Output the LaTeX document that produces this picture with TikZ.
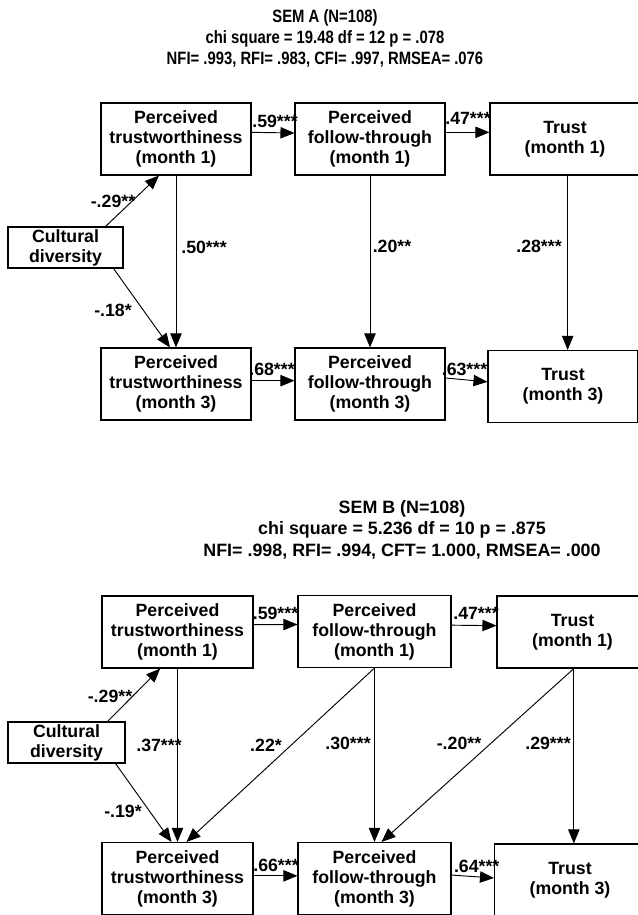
\documentclass[tikz,border=0pt]{standalone}
\usepackage{fontspec}
\setmainfont{Liberation Sans}
\newfontfamily\narrowsans[FakeStretch=0.83]{Liberation Sans}
\usepackage{tikz}
\usetikzlibrary{arrows.meta}

\newcommand{\semfont}{\fontsize{13.3}{15}\selectfont\bfseries}
\newcommand{\headAfont}{\narrowsans\fontsize{13.4}{15.75}\selectfont\bfseries}
\newcommand{\headBfont}{\fontsize{13.4}{16.1}\selectfont\bfseries}

\tikzset{
    var/.style={draw, line width=0.8pt, align=center, inner sep=0pt,
        minimum width=112.5pt, minimum height=54pt, font=\semfont},
    coef/.style={inner sep=0pt, font=\semfont},
    effect/.style={line width=0.7pt, -{Triangle[length=10.5pt,width=8.5pt]}},
}

\begin{document}
\begin{tikzpicture}[x=0.75pt, y=-0.75pt]
            \useasboundingbox (0,0) rectangle (638,915);

            % SEM A
            \node[font=\headAfont, align=center] (headA) at (325,38)
                {SEM A (N=108)\\chi square = 19.48 df = 12 p = .078\\NFI= .993, RFI= .983, CFI= .997, RMSEA= .076};

            \node[var] (ptA1) at (176,139) {Perceived\\trustworthiness\\(month 1)};
            \node[var] (pfA1) at (370,139) {Perceived\\follow-through\\(month 1)};
            \node[var] (trA1) at (565,139) {Trust\\(month 1)};
            \node[var, minimum width=86.25pt, minimum height=30.75pt] (cdA) at (65.5,247.5) {Cultural\\diversity};
            \node[var] (ptA3) at (176,384) {Perceived\\trustworthiness\\(month 3)};
            \node[var] (pfA3) at (370,384) {Perceived\\follow-through\\(month 3)};
            \node[var] (trA3) at (563,386.5) {Trust\\(month 3)};

            \draw[effect] ([yshift=5pt]ptA1.east) -- ([yshift=4.5pt]pfA1.west);
            \draw[effect] ([yshift=5pt]pfA1.east) -- ([yshift=5pt]trA1.west);
            \draw[effect] ([yshift=2.5pt]ptA3.east) -- ([yshift=2.5pt]pfA3.west);
            \draw[effect] ([yshift=4.5pt]pfA3.east) -- ([yshift=3.5pt]trA3.west);
            \draw[effect] (ptA1) -- (ptA3);
            \draw[effect] (pfA1) -- (pfA3);
            \draw[effect] ([xshift=2pt]trA1.south) -- ([xshift=2pt]trA1.south |- trA3.north);
            \draw[effect] ([xshift=-13.5pt]cdA.north east) -- ([xshift=-12.75pt]ptA1.south);
            \draw[effect] ([xshift=-7.5pt]cdA.south east) -- ([xshift=-4.5pt]ptA3.north);

            \node[coef] (cA1) at (275,121) {.59***};
            \node[coef] (cA2) at (468,118) {.47***};
            \node[coef] (cA3) at (272,369) {.68***};
            \node[coef] (cA4) at (464.5,369) {.63***};
            \node[coef] (cA5) at (204,247) {.50***};
            \node[coef] (cA6) at (392,246) {.20**};
            \node[coef] (cA7) at (539,246) {.28***};
            \node[coef] (cA8) at (113,201.7) {-.29**};
            \node[coef] (cA9) at (113,310) {-.18*};

            % SEM B
            \node[font=\headBfont, align=center] (headB) at (402,529.5)
                {SEM B (N=108)\\chi square = 5.236 df = 10 p = .875\\NFI= .998, RFI= .994, CFT= 1.000, RMSEA= .000};

            \node[var, minimum width=113.25pt] (ptB1) at (177.5,632) {Perceived\\trustworthiness\\(month 1)};
            \node[var, minimum width=114.75pt] (pfB1) at (374.5,631.5) {Perceived\\follow-through\\(month 1)};
            \node[var, minimum width=113.25pt] (trB1) at (572.5,632) {Trust\\(month 1)};
            \node[var, minimum width=87.75pt, minimum height=30.75pt] (cdB) at (66.5,742.5) {Cultural\\diversity};
            \node[var, minimum width=113.25pt] (ptB3) at (177.5,878.5) {Perceived\\trustworthiness\\(month 3)};
            \node[var, minimum width=114.75pt] (pfB3) at (374.5,878.5) {Perceived\\follow-through\\(month 3)};
            \node[var, minimum width=113.25pt] (trB3) at (570,880) {Trust\\(month 3)};

            \draw[effect] ([yshift=5.5pt]ptB1.east) -- ([yshift=5.25pt]pfB1.west);
            \draw[effect] ([yshift=4.75pt]pfB1.east) -- ([yshift=4.75pt]trB1.west);
            \draw[effect] ([yshift=2pt]ptB3.east) -- ([yshift=2pt]pfB3.west);
            \draw[effect] ([yshift=2.6pt]pfB3.east) -- ([yshift=1.5pt]trB3.west);
            \draw[effect] (ptB1) -- (ptB3);
            \draw[effect] (pfB1) -- (pfB3);
            \draw[effect] ([xshift=1pt]trB1.south) -- ([xshift=1pt]trB1.south |- trB3.north);
            \draw[effect] (pfB1.south) -- ([xshift=6.75pt]ptB3.north);
            \draw[effect] ([xshift=1pt]trB1.south) -- ([xshift=5.25pt]pfB3.north);
            \draw[effect] ([xshift=-13.5pt]cdB.north east) -- ([xshift=-13pt]ptB1.south);
            \draw[effect] ([xshift=-7.5pt]cdB.south east) -- ([xshift=-4.5pt]ptB3.north);

            \node[coef] (cB1) at (275.5,613) {.59***};
            \node[coef] (cB2) at (476,613) {.47***};
            \node[coef] (cB3) at (276,865) {.66***};
            \node[coef] (cB4) at (476.7,866.7) {.64***};
            \node[coef] (cB5) at (159,745) {.37***};
            \node[coef] (cB6) at (348,743) {.30***};
            \node[coef] (cB7) at (548,743) {.29***};
            \node[coef] (cB8) at (266,745) {.22*};
            \node[coef] (cB9) at (459,743) {-.20**};
            \node[coef] (cB10) at (110,696) {-.29**};
            \node[coef] (cB11) at (123,811.7) {-.19*};
        \end{tikzpicture}
\end{document}
